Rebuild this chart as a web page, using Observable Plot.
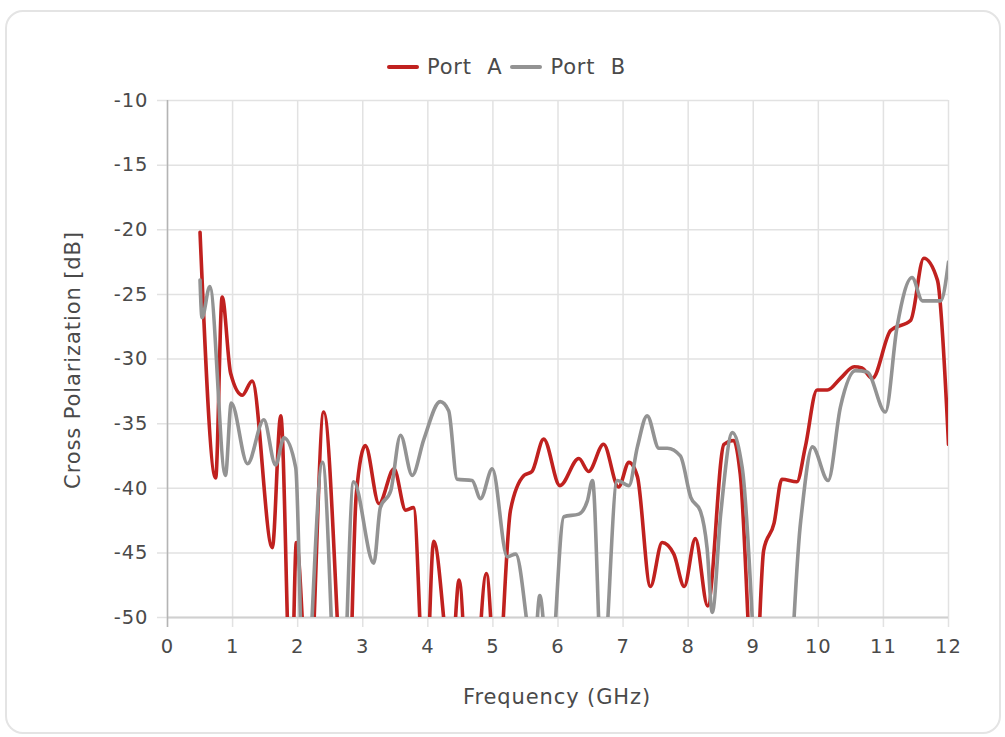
<!DOCTYPE html>
<html>
<head>
<meta charset="utf-8">
<script src="https://cdn.jsdelivr.net/npm/d3@7"></script>
<script src="https://cdn.jsdelivr.net/npm/@observablehq/plot@0.6"></script>
<style>
  body { margin: 0; background: #fff; font-family: "DejaVu Sans", sans-serif; }
  #card { position: absolute; left: 5px; top: 10px; width: 996px; height: 724px; border: 2px solid #e4e4e4; border-radius: 18px; box-sizing: border-box; }
  #legend { position: absolute; top: 55px; left: 0; width: 1013px; display: flex; justify-content: center; align-items: center; font-size: 21px; color: #4a4a4a; word-spacing: 8px; letter-spacing: 0.8px; }
  .item { display: flex; align-items: center; margin: 0 4px; }
  .sw { width: 32px; height: 4px; border-radius: 2px; margin-right: 8px; }
  #chart { position: absolute; left: 0; top: 0; }
  .lab { position: absolute; font-size: 21px; color: #4a4a4a; white-space: nowrap; letter-spacing: 0.9px; }
</style>
</head>
<body>
<div id="card"></div>
<div id="legend"></div>
<div id="chart"></div>
<div class="lab" id="ylab">Cross Polarization [dB]</div>
<div class="lab" id="xlab">Frequency (GHz)</div>
<script>
const seriesNames = ["Port A", "Port B"];
const seriesColors = ["#c0211f", "#939393"];
const xTicks = [0,1,2,3,4,5,6,7,8,9,10,11,12];
const yTicks = [-10,-15,-20,-25,-30,-35,-40,-45,-50];

const freqA = [0.5,0.74,0.84,0.97,1.15,1.30,1.61,1.74,1.90,1.98,2.17,2.40,2.76,2.90,3.04,3.25,3.48,3.66,3.78,3.96,4.09,4.36,4.48,4.66,4.90,5.06,5.27,5.48,5.60,5.78,6.03,6.32,6.47,6.70,6.93,7.09,7.22,7.42,7.60,7.78,7.94,8.11,8.30,8.55,8.70,8.80,9.02,9.16,9.32,9.44,9.67,9.80,9.98,10.14,10.34,10.55,10.67,10.83,11.11,11.42,11.62,11.83,12.0];
const dbA   = [-20.2,-39.2,-25.2,-31.1,-32.8,-31.7,-44.6,-34.4,-57,-44.2,-57,-34.1,-60,-40.5,-36.7,-41.2,-38.5,-41.7,-41.5,-57,-44.1,-54,-47.1,-60,-46.6,-56,-41.7,-39.0,-38.7,-36.2,-39.8,-37.7,-38.7,-36.6,-39.9,-38.0,-39.1,-47.6,-44.2,-45.1,-47.6,-43.9,-49.1,-36.6,-36.3,-38.9,-57,-44.8,-42.7,-39.3,-39.5,-36.8,-32.4,-32.4,-31.5,-30.6,-30.7,-31.5,-27.8,-27.0,-22.2,-23.9,-36.6];

const freqB = [0.50,0.53,0.65,0.89,0.98,1.23,1.48,1.66,1.79,1.97,2.10,2.38,2.65,2.86,3.17,3.27,3.43,3.58,3.76,3.94,4.19,4.32,4.45,4.68,4.81,4.99,5.22,5.35,5.63,5.72,5.87,6.09,6.32,6.45,6.53,6.68,6.91,7.09,7.22,7.37,7.55,7.68,7.88,8.04,8.19,8.29,8.37,8.50,8.68,8.83,9.30,9.73,9.91,10.15,10.34,10.57,10.75,11.03,11.21,11.44,11.60,11.88,12.0];
const dbB   = [-23.9,-26.8,-24.4,-39.0,-33.4,-38.1,-34.7,-38.2,-36.1,-38.4,-58,-38.0,-62,-39.5,-45.8,-41.5,-40.2,-35.9,-39.0,-36.2,-33.3,-34.0,-39.3,-39.4,-40.8,-38.5,-45.3,-45.1,-53,-48.3,-55,-42.2,-42.0,-41.0,-39.4,-55,-39.4,-39.8,-36.8,-34.4,-36.9,-36.9,-37.5,-40.7,-41.8,-44.6,-49.6,-42.0,-35.7,-38.4,-75,-42.5,-36.8,-39.4,-33.7,-30.9,-31.0,-34.1,-27.5,-23.7,-25.5,-25.5,-22.5];

const rows = [
  ...freqA.map((f, i) => ({series: seriesNames[0], f, db: dbA[i]})),
  ...freqB.map((f, i) => ({series: seriesNames[1], f, db: dbB[i]}))
];

// legend
const leg = document.getElementById("legend");
seriesNames.forEach((n, i) => {
  const it = document.createElement("div");
  it.className = "item";
  it.innerHTML = `<span class="sw" style="background:${seriesColors[i]}"></span><span>${n}</span>`;
  leg.appendChild(it);
});

const chart = Plot.plot({
  width: 1005,
  height: 720,
  marginLeft: 167,
  marginRight: 57,
  marginTop: 100,
  marginBottom: 103,
  style: { fontFamily: "DejaVu Sans, sans-serif", fontSize: "19.5px", color: "#4a4a4a", background: "transparent", letterSpacing: "1px" },
  x: { domain: [0, 12] },
  y: { domain: [-50, -10] },
  color: { domain: seriesNames, range: seriesColors },
  marks: [
    Plot.gridX(xTicks, { stroke: "#e2e2e2", strokeOpacity: 1, strokeWidth: 1.5, insetBottom: -10 }),
    Plot.gridY(yTicks, { stroke: "#e2e2e2", strokeOpacity: 1, strokeWidth: 1.5, insetLeft: -10 }),
    Plot.axisX(xTicks, { tickSize: 0, tickPadding: 22, label: null, fill: "#4a4a4a", fontSize: 19.5 }),
    Plot.axisY(yTicks, { tickSize: 0, tickPadding: 19, label: null, fill: "#4a4a4a", fontSize: 19.5, tickFormat: d => String(d) }),
    Plot.ruleY([-50], { stroke: "#d0d0d0", strokeWidth: 2 }),
    Plot.ruleX([0], { stroke: "#b4b4b4", strokeWidth: 1.5, insetBottom: -10 }),
    Plot.line(rows, { x: "f", y: "db", z: "series", stroke: "series", strokeWidth: 3.6, curve: "monotone-x", clip: true })
  ]
});
document.getElementById("chart").appendChild(chart);

const yl = document.getElementById("ylab");
yl.style.left = "73px"; yl.style.top = "360px";
yl.style.transform = "translate(-50%,-50%) rotate(-90deg)";
const xl = document.getElementById("xlab");
xl.style.left = "557px"; xl.style.top = "697px";
xl.style.transform = "translate(-50%,-50%)";
</script>
</body>
</html>
